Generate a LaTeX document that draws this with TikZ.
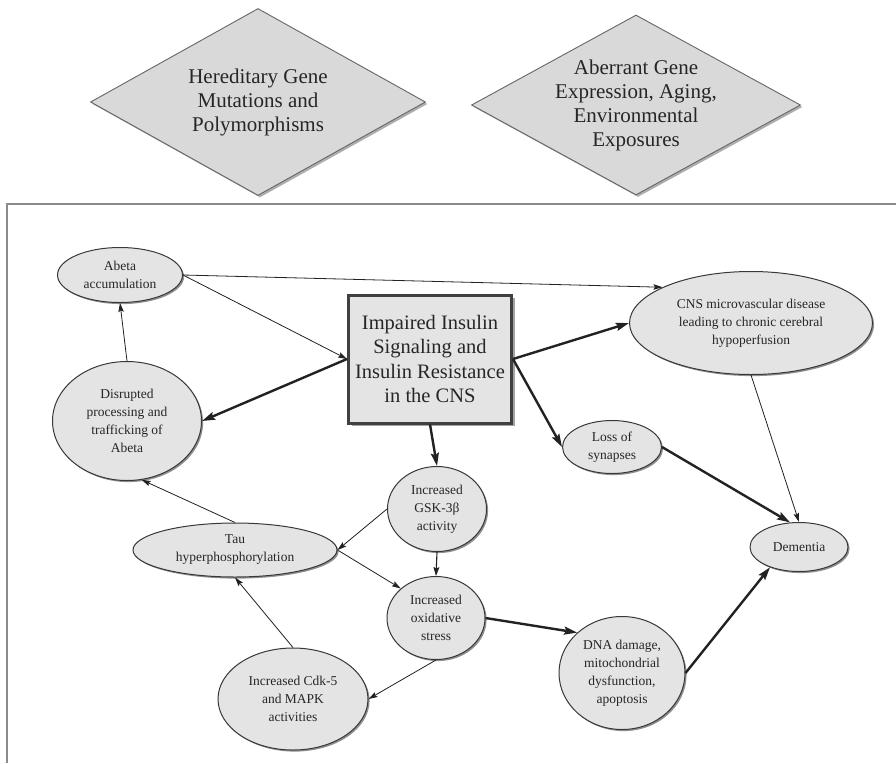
\documentclass[tikz,border=0pt]{standalone}
\usepackage{fontspec}
\setmainfont{Liberation Serif}
\usetikzlibrary{shapes.geometric,shadows,arrows.meta}
\definecolor{nodefill}{HTML}{E4E4E4}
\definecolor{diafill}{HTML}{D9D9D9}
\definecolor{edgecol}{HTML}{222222}
\definecolor{framecol}{HTML}{8A8A8A}
\begin{document}
\begin{tikzpicture}[x=1pt,y=-1pt,
  ell/.style={ellipse, draw=black!78, line width=1pt, fill=nodefill, inner sep=0pt,
    align=center, text=black!85, font=\fontsize{13.5}{18}\selectfont,
    drop shadow={shadow xshift=1.6pt, shadow yshift=-1.6pt, fill=black!55, opacity=0.8}},
  dia/.style={diamond, draw=black!60, line width=0.9pt, fill=diafill, inner sep=0pt,
    align=center, text=black!85, font=\fontsize{21}{24}\selectfont,
    drop shadow={shadow xshift=2pt, shadow yshift=-2pt, fill=black!45, opacity=0.7}},
  mainbox/.style={rectangle, draw=black!75, line width=3pt, fill=nodefill, inner sep=0pt,
    align=center, text=black!85, font=\fontsize{20.5}{24.5}\selectfont,
    drop shadow={shadow xshift=3pt, shadow yshift=-3pt, fill=black!45, opacity=0.8}},
  athin/.style={draw=edgecol, line width=0.8pt, -{Stealth[length=9pt,width=5.5pt,inset=1.5pt]}},
  amid/.style={draw=edgecol, line width=1.1pt, -{Stealth[length=9pt,width=6pt,inset=1.5pt]}},
  athick/.style={draw=edgecol, line width=2.4pt, -{Stealth[length=13pt,width=8pt,inset=2pt]}},
]
\useasboundingbox (0,0) rectangle (896,763);
\fill[white] (0,0) rectangle (896,763);

% frame
\draw[framecol, line width=1.5pt] (7,763) -- (7,204) -- (896,204);

% diamonds
\node[dia, aspect=1.79, minimum width=335pt, minimum height=187pt] (d1) at (258,102)
  {Hereditary Gene\\Mutations and\\Polymorphisms};
\node[dia, aspect=1.83, minimum width=329pt, minimum height=180pt] (d2) at (636,105)
  {Aberrant Gene\\Expression, Aging,\\Environmental\\Exposures};

% nodes
\node[ell, minimum width=125pt, minimum height=55pt] (abeta) at (120,275) {Abeta\\accumulation};
\node[ell, minimum width=149pt, minimum height=119pt] (disr) at (127,421)
  {Disrupted\\processing and\\trafficking of\\Abeta};
\node[mainbox, minimum width=163pt, minimum height=128pt] (box) at (430,359)
  {Impaired Insulin\\Signaling and\\Insulin Resistance\\in the CNS};
\node[ell, minimum width=243pt, minimum height=103pt] (cns) at (751,323)
  {CNS microvascular disease\\leading to chronic cerebral\\hypoperfusion};
\node[ell, minimum width=99pt, minimum height=53pt] (loss) at (612,447) {Loss of\\synapses};
\node[ell, minimum width=99pt, minimum height=85pt] (gsk) at (437,509) {Increased\\GSK-3β\\activity};
\node[ell, minimum width=204pt, minimum height=54pt] (tau) at (235,550) {Tau\\hyperphosphorylation};
\node[ell, minimum width=98pt, minimum height=83pt] (ox) at (436,618) {Increased\\oxidative\\stress};
\node[ell, minimum width=150pt, minimum height=102pt] (cdk) at (293,699)
  {Increased Cdk-5\\and MAPK\\activities};
\node[ell, minimum width=126pt, minimum height=113pt] (dna) at (622,673)
  {DNA damage,\\mitochondrial\\dysfunction,\\apoptosis};
\node[ell, minimum width=98pt, minimum height=49pt] (dem) at (799,547) {Dementia};

% connectors
\draw[athin] (abeta.east) -- (box.west);
\draw[athin] (abeta.east) -- (cns.158);
\draw[athick] (box.west) -- (disr.east);
\draw[athin] (disr.north) -- (abeta.south);
\draw[athick] (box.east) -- (cns.west);
\draw[athick] (box.east) -- (loss.west);
\draw[athick] (box.south) -- (gsk.north);
\draw[athin] (cns.south) -- (dem.north);
\draw[athick] (loss.east) -- (dem.110);
\draw[athin] (gsk.west) -- (tau.east);
\draw[amid] (gsk.south) -- (ox.north);
\draw[athin] (tau.east) -- (ox.140);
\draw[athin] (tau.north) -- (disr.-76);
\draw[athin] (ox.south) -- (cdk.east);
\draw[athin] (cdk.north) -- (tau.south);
\draw[athick] (ox.east) -- (dna.138);
\draw[athick] (dna.east) -- (dem.215);
\end{tikzpicture}
\end{document}
